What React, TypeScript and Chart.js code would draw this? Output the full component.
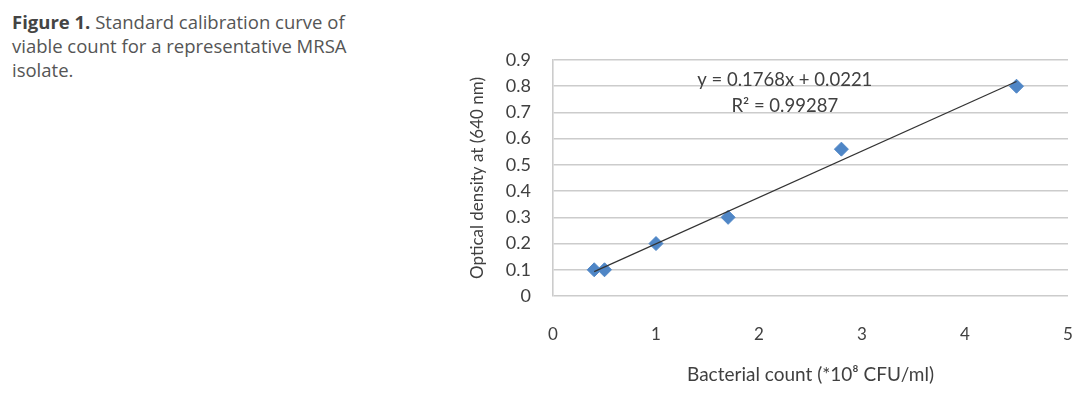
import React, { useEffect, useRef } from "react";
import { Chart, registerables } from "chart.js";

Chart.register(...registerables);

// ---- data ----
const countX = [0.4, 0.5, 1, 1.7, 2.8, 4.5];
const densityY = [0.1, 0.1, 0.2, 0.3, 0.56, 0.8];
const trendX = [0.4, 4.5];
const trendY = [0.093, 0.818];
const xTickValues = [0, 1, 2, 3, 4, 5];
const yTickValues = [0, 0.1, 0.2, 0.3, 0.4, 0.5, 0.6, 0.7, 0.8, 0.9];
const equationLines = ["y = 0.1768x + 0.0221", "R² = 0.99287"];
const xTitle = "Bacterial count (*10⁸ CFU/ml)";
const yTitle = "Optical density at (640 nm)";

const CHART_FONT = "Lato, 'Open Sans', sans-serif";

const equationPlugin = {
  id: "equationLabel",
  afterDatasetsDraw(chart: any) {
    const { ctx, scales } = chart;
    const x = scales.x.getPixelForValue(2.25);
    const y1 = scales.y.getPixelForValue(0.822);
    const y2 = scales.y.getPixelForValue(0.723);
    ctx.save();
    ctx.font = `18.5px ${CHART_FONT}`;
    ctx.fillStyle = "#404040";
    ctx.textAlign = "center";
    ctx.textBaseline = "middle";
    ctx.fillText(equationLines[0], x, y1);
    ctx.fillText(equationLines[1], x, y2);
    ctx.restore();
  },
};

function CalibrationChart() {
  const ref = useRef<HTMLCanvasElement | null>(null);
  useEffect(() => {
    if (!ref.current) return;
    const chart = new Chart(ref.current, {
      type: "scatter",
      data: {
        datasets: [
          {
            label: "Trendline",
            data: trendX.map((x, i) => ({ x, y: trendY[i] })),
            showLine: true,
            borderColor: "#333333",
            borderWidth: 1.2,
            pointRadius: 0,
            pointHoverRadius: 0,
          },
          {
            label: "OD",
            data: countX.map((x, i) => ({ x, y: densityY[i] })),
            pointStyle: "rectRot",
            pointRadius: 7,
            pointHoverRadius: 7,
            backgroundColor: "#4f86c6",
            borderColor: "#4f86c6",
            borderWidth: 1,
          },
        ],
      },
      options: {
        responsive: false,
        animation: false,
        layout: { padding: { top: 60, right: 10, left: 0, bottom: 0 } },
        plugins: {
          legend: { display: false },
          tooltip: { enabled: false },
        },
        scales: {
          x: {
            type: "linear",
            min: 0,
            max: 5,
            afterBuildTicks: (scale: any) => {
              scale.ticks = xTickValues.map((v) => ({ value: v }));
            },
            afterFit: (scale: any) => {
              scale.height = 108;
              scale.paddingLeft = 0;
              scale.paddingRight = 0;
            },
            grid: { display: false, drawTicks: false },
            border: { display: false },
            ticks: {
              padding: 28,
              color: "#404040",
              font: { family: CHART_FONT, size: 17 },
              callback: (v: any) => String(v),
            },
            title: {
              display: true,
              text: xTitle,
              color: "#404040",
              font: { family: CHART_FONT, size: 19 },
              padding: { top: 0, bottom: 18 },
            },
          },
          y: {
            type: "linear",
            min: 0,
            max: 0.9,
            afterBuildTicks: (scale: any) => {
              scale.ticks = yTickValues.map((v) => ({ value: v }));
            },
            afterFit: (scale: any) => {
              scale.width = 113;
              scale.paddingTop = 0;
              scale.paddingBottom = 0;
            },
            grid: { color: "#cccccc", lineWidth: 1.6, drawTicks: false },
            border: { display: true, color: "#cccccc", width: 1.6 },
            ticks: {
              padding: 22,
              color: "#404040",
              font: { family: CHART_FONT, size: 18 },
              callback: (v: any) => (v === 0 ? "0" : Number(v).toFixed(1)),
            },
            title: {
              display: true,
              text: yTitle,
              color: "#404040",
              font: { family: CHART_FONT, size: 17 },
              padding: { top: 27, bottom: 0 },
            },
          },
        },
      },
      plugins: [equationPlugin],
    });
    return () => chart.destroy();
  }, []);
  return (
    <canvas
      ref={ref}
      width={638}
      height={404}
      style={{ position: "absolute", left: 440, top: 0, width: 638, height: 404 }}
    />
  );
}

export default function App() {
  return (
    <div
      style={{
        position: "absolute",
        left: 0,
        top: 0,
        width: 1078,
        height: 404,
        background: "#ffffff",
        overflow: "hidden",
      }}
    >
      <div
        style={{
          position: "absolute",
          left: 12,
          top: 10,
          width: 370,
          fontFamily: "'Open Sans', 'Noto Sans', sans-serif",
          fontSize: 18.5,
          lineHeight: "24px",
          color: "#555555",
          whiteSpace: "nowrap",
        }}
      >
        <span style={{ fontWeight: 700, color: "#444444" }}>Figure 1.</span> Standard calibration curve of
        <br />
        viable count for a representative MRSA
        <br />
        isolate.
      </div>
      <CalibrationChart />
    </div>
  );
}
